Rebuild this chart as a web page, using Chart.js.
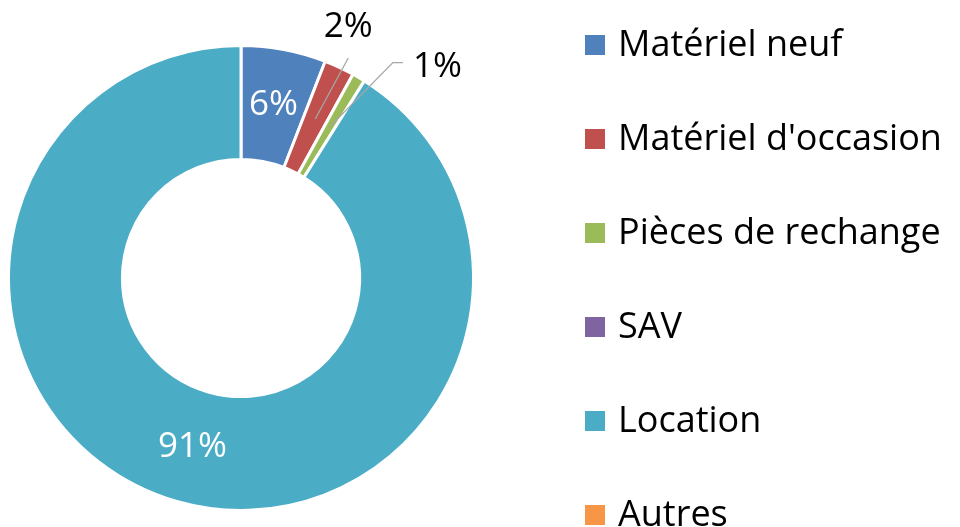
<!DOCTYPE html>
<html>
<head>
<meta charset="utf-8">
<script src="https://cdn.jsdelivr.net/npm/chart.js@4"></script>
<style>
    body { margin: 0; background: #fff; }
    #wrap { width: 960px; height: 527px; position: relative; }
</style>
</head>
<body>
<div id="wrap"><canvas id="repartitionChart"></canvas></div>
<script>
const categories = ['Matériel neuf', "Matériel d'occasion", 'Pièces de rechange', 'SAV', 'Location', 'Autres'];
const shares = [5.9, 2.1, 0.9, 0, 91.1, 0];
const sliceColors = ['#4F81BD', '#C0504D', '#9BBB59', '#8064A2', '#4BACC6', '#F79646'];

const FONT = '"Open Sans", Lato, sans-serif';

// percent labels: inside the ring for big slices, with a leader line for the thin ones
const percentLabels = {
    id: 'percentLabels',
    afterDatasetsDraw(chart, args, opts) {
        const ctx = chart.ctx;
        const arcs = chart.getDatasetMeta(0).data;
        const total = shares.reduce((a, b) => a + b, 0);
        ctx.save();
        ctx.font = '35px ' + FONT;
        ctx.textBaseline = 'middle';
        arcs.forEach((arc, i) => {
            if (!shares[i]) return;
            const txt = Math.round(shares[i] / total * 100) + '%';
            const pos = arc.tooltipPosition();
            const lead = opts.leaders[i];
            if (!lead) {
                ctx.fillStyle = '#fff';
                ctx.textAlign = 'center';
                ctx.fillText(txt, pos.x, pos.y);
                return;
            }
            ctx.strokeStyle = '#A6A6A6';
            ctx.lineWidth = 1.3;
            ctx.beginPath();
            ctx.moveTo(pos.x, pos.y);
            let x = pos.x + lead.dx, y = pos.y + lead.dy;
            ctx.lineTo(x, y);
            if (lead.hx) {
                x += lead.hx;
                ctx.lineTo(x, y);
            }
            ctx.stroke();
            ctx.fillStyle = '#000';
            ctx.textAlign = lead.hx ? 'left' : 'center';
            ctx.fillText(txt, x + lead.tx, y + lead.ty);
        });
        ctx.restore();
    }
};

// legend drawn on the right, one row per category
const sideLegend = {
    id: 'sideLegend',
    afterDraw(chart, args, opts) {
        const ctx = chart.ctx;
        ctx.save();
        ctx.font = '36px ' + FONT;
        ctx.textBaseline = 'middle';
        ctx.textAlign = 'left';
        categories.forEach((name, i) => {
            const y = opts.top + i * opts.step;
            ctx.fillStyle = sliceColors[i];
            ctx.fillRect(opts.left, y - 10, 20, 20);
            ctx.fillStyle = '#000';
            ctx.fillText(name, opts.left + 33, y + 1);
        });
        ctx.restore();
    }
};

const ctx1 = document.getElementById('repartitionChart').getContext('2d');
new Chart(ctx1, {
    type: 'doughnut',
    data: {
        labels: categories,
        datasets: [{
            data: shares,
            backgroundColor: sliceColors,
            borderColor: '#fff',
            borderWidth: 3
        }]
    },
    options: {
        responsive: true,
        maintainAspectRatio: false,
        animation: false,
        cutout: '51%',
        layout: {
            padding: { left: 7, top: 44, right: 485, bottom: 15 }
        },
        plugins: {
            legend: { display: false },
            tooltip: { enabled: false },
            percentLabels: {
                leaders: {
                    1: { dx: 33, dy: -61, tx: 0, ty: -31 },
                    2: { dx: 63, dy: -64, hx: 10, tx: 10, ty: 4 }
                }
            },
            sideLegend: { left: 585, top: 45, step: 94 }
        }
    },
    plugins: [percentLabels, sideLegend]
});
</script>
</body>
</html>
